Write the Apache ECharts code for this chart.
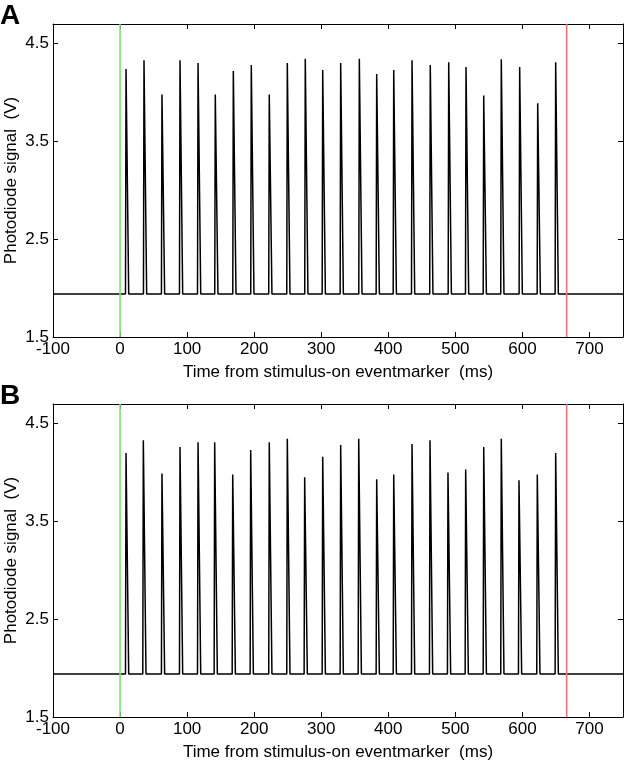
<!DOCTYPE html>
<html>
<head>
<meta charset="utf-8">
<style>
  html, body { margin: 0; padding: 0; background: #fff; }
  #chart { width: 627px; height: 762px; }
</style>
<script src="https://cdn.jsdelivr.net/npm/echarts@6/dist/echarts.min.js"></script>
</head>
<body>
<div id="chart"></div>
<script>
// ---- Data ----
const spikeTimesA = [8.9, 35.7, 62.5, 89.4, 116.3, 142.0, 168.9, 195.7, 222.5, 249.4, 276.2, 302.2, 329.0, 356.8, 382.7, 408.1, 435.4, 462.6, 490.1, 515.9, 542.3, 568.5, 595.9, 622.8, 649.6];
const spikePeaksA = [4.24, 4.33, 3.98, 4.33, 4.30, 3.98, 4.22, 4.28, 3.98, 4.30, 4.345, 4.23, 4.30, 4.345, 4.19, 4.23, 4.33, 4.28, 4.31, 4.26, 3.97, 4.34, 4.26, 3.89, 4.31];
const spikeTimesB = [8.9, 34.7, 62.5, 89.4, 116.3, 141.1, 168.0, 194.8, 222.5, 249.4, 275.3, 302.2, 329.0, 355.9, 382.7, 408.1, 435.4, 462.2, 489.0, 515.4, 542.3, 568.5, 594.9, 622.2, 649.6];
const spikePeaksB = [4.20, 4.33, 3.99, 4.26, 4.31, 4.31, 3.98, 4.23, 4.31, 4.345, 3.95, 4.16, 4.28, 4.345, 3.93, 3.98, 4.29, 4.33, 4.00, 4.03, 4.26, 4.345, 3.92, 3.98, 4.20];
const baselineA = 1.94;
const baselineB = 1.94;
// small baseline blips (time, value) seen in panel B
const blipTimesB = [-77, -34, -18, 660, 703, 744];
const blipValuesB = [1.955, 1.955, 1.955, 1.955, 1.952, 1.955];
const stimOnTime = 0;      // green marker
const stimOffTime = 666;   // red marker
const xRange = [-100, 750];
const yRange = [1.5, 4.7];
const xTickStep = 100;
const yTickStep = 1;
const panelLabels = ['A', 'B'];
const xAxisName = 'Time from stimulus-on eventmarker  (ms)';
const yAxisName = 'Photodiode signal  (V)';

// ---- Build traces (each spike: fast rise, short decay back to baseline) ----
function buildTrace(times, peaks, base, bTimes, bVals) {
  const events = [];
  times.forEach((t, i) => events.push({ t, kind: 'spike', v: peaks[i] }));
  (bTimes || []).forEach((t, i) => events.push({ t, kind: 'blip', v: bVals[i] }));
  events.sort((a, b) => a.t - b.t);
  const pts = [[xRange[0], base]];
  events.forEach(e => {
    if (e.kind === 'spike') pts.push([e.t - 0.8, base], [e.t, e.v], [e.t + 4.0, base]);
    else pts.push([e.t - 1.5, base], [e.t, e.v], [e.t + 1.5, base]);
  });
  pts.push([xRange[1], base]);
  return pts;
}
const traceA = buildTrace(spikeTimesA, spikePeaksA, baselineA);
const traceB = buildTrace(spikeTimesB, spikePeaksB, baselineB, blipTimesB, blipValuesB);

const FONT = '"Liberation Sans", Arial, sans-serif';
const FS = 17;
const chart = echarts.init(document.getElementById('chart'), null, { renderer: 'canvas' });

const grids = [
  { left: 53, top: 24, width: 570, height: 313, containLabel: false, outerBoundsMode: 'none' },
  { left: 53, top: 404, width: 570, height: 313, containLabel: false, outerBoundsMode: 'none' }
];

function xAxes(gi) {
  const common = {
    type: 'value', gridIndex: gi, min: xRange[0], max: xRange[1], interval: xTickStep,
    axisLine: { show: true, onZero: false, lineStyle: { color: '#000', width: 1 } },
    axisTick: { show: true, inside: true, length: 5, lineStyle: { color: '#000', width: 1 } },
    splitLine: { show: false }
  };
  return [
    Object.assign({}, common, {
      position: 'bottom',
      name: xAxisName, nameLocation: 'middle', nameGap: 27, nameMoveOverlap: false,
      nameTextStyle: { fontFamily: FONT, fontSize: FS, color: '#000' },
      axisLabel: { show: true, showMaxLabel: false, margin: 4, fontFamily: FONT, fontSize: FS, color: '#000' }
    }),
    Object.assign({}, common, { position: 'top', axisLabel: { show: false } })
  ];
}
function yAxes(gi) {
  const common = {
    type: 'value', gridIndex: gi, min: yRange[0], max: yRange[1], interval: yTickStep,
    axisLine: { show: true, onZero: false, lineStyle: { color: '#000', width: 1 } },
    axisTick: { show: true, inside: true, length: 5, lineStyle: { color: '#000', width: 1 } },
    splitLine: { show: false }
  };
  return [
    Object.assign({}, common, {
      position: 'left',
      name: yAxisName, nameLocation: 'middle', nameGap: 33, nameRotate: 90, nameMoveOverlap: false,
      nameTextStyle: { fontFamily: FONT, fontSize: FS, color: '#000' },
      axisLabel: { show: true, showMaxLabel: false, margin: 4, fontFamily: FONT, fontSize: FS, color: '#000',
        formatter: v => v.toFixed(1) }
    }),
    Object.assign({}, common, { position: 'right', axisLabel: { show: false } })
  ];
}

function panelSeries(gi, trace) {
  const xi = gi * 2, yi = gi * 2;
  return [
    {
      type: 'line', xAxisIndex: xi, yAxisIndex: yi,
      data: [[stimOnTime, yRange[0]], [stimOnTime, yRange[1]]],
      symbol: 'none', silent: true, animation: false,
      lineStyle: { color: '#74e474', width: 1.6 }, z: 3
    },
    {
      type: 'line', xAxisIndex: xi, yAxisIndex: yi,
      data: [[stimOffTime, yRange[0]], [stimOffTime, yRange[1]]],
      symbol: 'none', silent: true, animation: false,
      lineStyle: { color: '#e8757a', width: 1.6 }, z: 3
    },
    {
      type: 'line', xAxisIndex: xi, yAxisIndex: yi,
      data: trace, symbol: 'none', animation: false, silent: true,
      lineStyle: { color: '#000', width: 1.5 }, z: 2
    }
  ];
}

const option = {
  backgroundColor: '#fff',
  animation: false,
  grid: grids,
  xAxis: [...xAxes(0), ...xAxes(1)],
  yAxis: [...yAxes(0), ...yAxes(1)],
  title: [
    { text: panelLabels[0], left: 0, top: 2, textStyle: { fontFamily: FONT, fontSize: 28, fontWeight: 'bold', color: '#000' }, padding: 0 },
    { text: panelLabels[1], left: 0, top: 382, textStyle: { fontFamily: FONT, fontSize: 28, fontWeight: 'bold', color: '#000' }, padding: 0 }
  ],
  series: [...panelSeries(0, traceA), ...panelSeries(1, traceB)]
};
chart.setOption(option);
</script>
</body>
</html>
